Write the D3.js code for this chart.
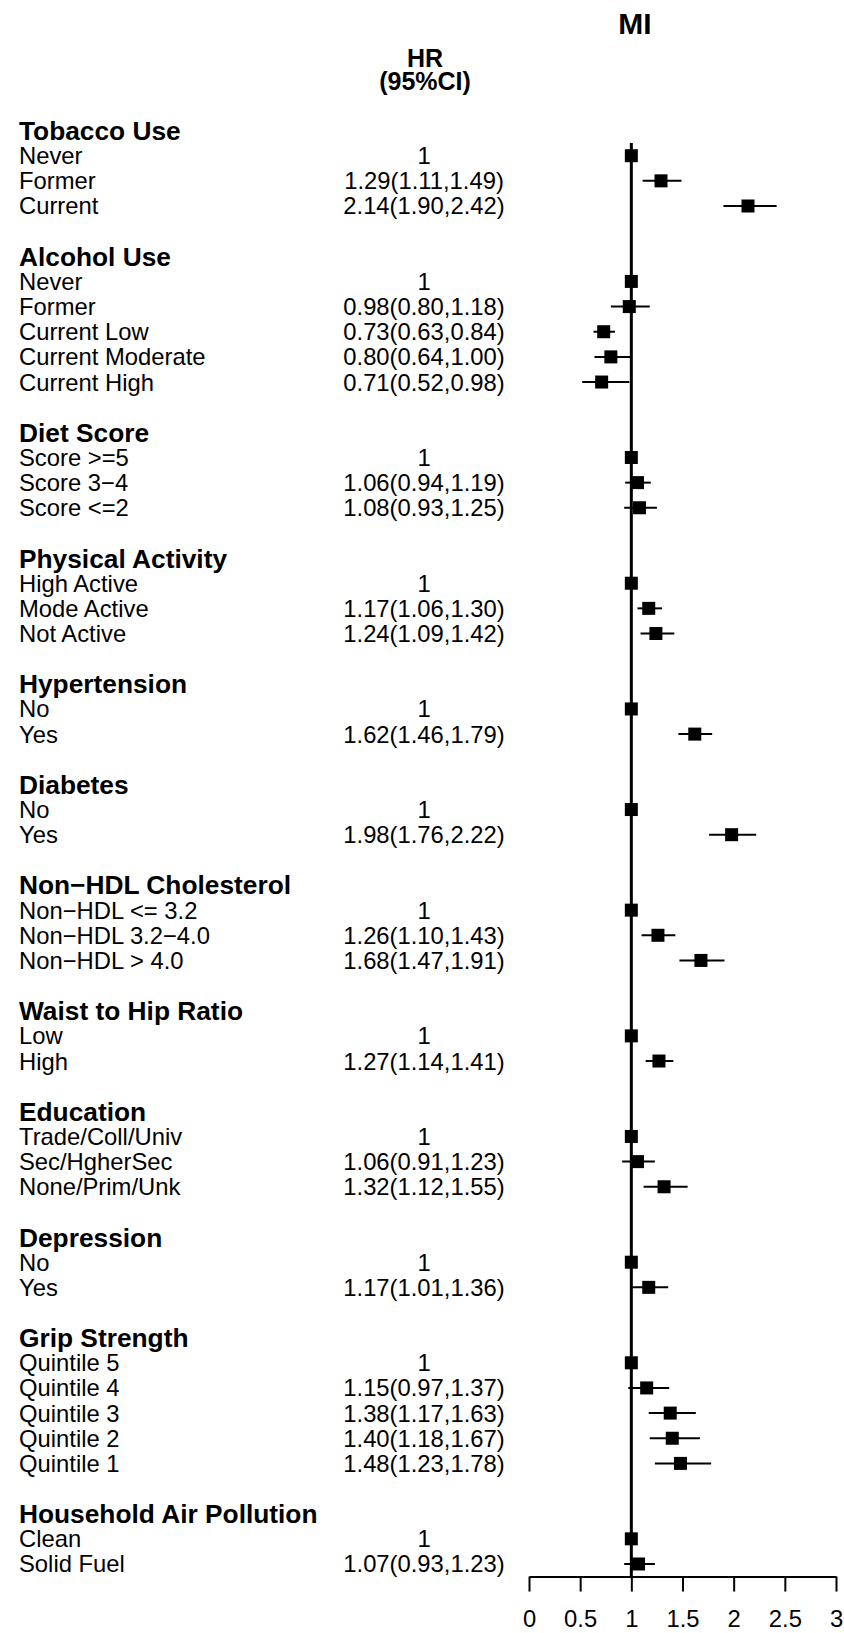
<!DOCTYPE html>
<html>
<head>
<meta charset="utf-8">
<script src="https://cdn.jsdelivr.net/npm/d3@7"></script>
<style>
  body { margin: 0; background: #fff; }
  svg text { font-family: "Liberation Sans", Arial, Helvetica, sans-serif; fill: #000; }
</style>
</head>
<body>
<svg id="chart" width="844" height="1633"></svg>
<script>
// groups and their levels, first level is the reference (HR = 1)
let groupNames = ["Tobacco Use", "Alcohol Use", "Diet Score", "Physical Activity", "Hypertension", "Diabetes",
    "Non\u2212HDL Cholesterol", "Waist to Hip Ratio", "Education", "Depression", "Grip Strength", "Household Air Pollution"]
let levelLabels = [
    ["Never", "Former", "Current"],
    ["Never", "Former", "Current Low", "Current Moderate", "Current High"],
    ["Score >=5", "Score 3\u22124", "Score <=2"],
    ["High Active", "Mode Active", "Not Active"],
    ["No", "Yes"],
    ["No", "Yes"],
    ["Non\u2212HDL <= 3.2", "Non\u2212HDL 3.2\u22124.0", "Non\u2212HDL > 4.0"],
    ["Low", "High"],
    ["Trade/Coll/Univ", "Sec/HgherSec", "None/Prim/Unk"],
    ["No", "Yes"],
    ["Quintile 5", "Quintile 4", "Quintile 3", "Quintile 2", "Quintile 1"],
    ["Clean", "Solid Fuel"]
]
let hrValues = [
    [1, 1.29, 2.14],
    [1, 0.98, 0.73, 0.80, 0.71],
    [1, 1.06, 1.08],
    [1, 1.17, 1.24],
    [1, 1.62],
    [1, 1.98],
    [1, 1.26, 1.68],
    [1, 1.27],
    [1, 1.06, 1.32],
    [1, 1.17],
    [1, 1.15, 1.38, 1.40, 1.48],
    [1, 1.07]
]
let lowerCI = [
    [null, 1.11, 1.90],
    [null, 0.80, 0.63, 0.64, 0.52],
    [null, 0.94, 0.93],
    [null, 1.06, 1.09],
    [null, 1.46],
    [null, 1.76],
    [null, 1.10, 1.47],
    [null, 1.14],
    [null, 0.91, 1.12],
    [null, 1.01],
    [null, 0.97, 1.17, 1.18, 1.23],
    [null, 0.93]
]
let upperCI = [
    [null, 1.49, 2.42],
    [null, 1.18, 0.84, 1.00, 0.98],
    [null, 1.19, 1.25],
    [null, 1.30, 1.42],
    [null, 1.79],
    [null, 2.22],
    [null, 1.43, 1.91],
    [null, 1.41],
    [null, 1.23, 1.55],
    [null, 1.36],
    [null, 1.37, 1.63, 1.67, 1.78],
    [null, 1.23]
]
let tickValues = [0, 0.5, 1, 1.5, 2, 2.5, 3]

// flatten into rows: header, levels, blank spacer
let rows = []
groupNames.forEach((g, gi) => {
    rows.push({ type: "header", label: g })
    levelLabels[gi].forEach((lab, li) => {
        let hr = hrValues[gi][li], lo = lowerCI[gi][li], hi = upperCI[gi][li]
        let txt = lo == null ? "1" : `${hr.toFixed(2)}(${lo.toFixed(2)},${hi.toFixed(2)})`
        rows.push({ type: "item", label: lab, hr: hr, lo: lo, hi: hi, txt: txt })
    })
    if (gi < groupNames.length - 1) rows.push({ type: "blank" })
})
rows.forEach((r, i) => r.idx = i)

let svg = d3.select("#chart")
let nRows = rows.length
let y = d3.scaleLinear().domain([0, nRows - 1]).range([130.55, 130.55 + (nRows - 1) * 25.148])
let x = d3.scaleLinear().domain([0, 3]).range([529, 836])
let step = y(1) - y(0)
let fs = 23.8, fsHead = 26.3

// column headers
svg.append("text").attr("x", 635).attr("y", 34).attr("text-anchor", "middle")
    .attr("font-size", 30).attr("font-weight", "bold").text("MI")
svg.append("text").attr("x", 425).attr("y", 67).attr("text-anchor", "middle")
    .attr("font-size", 25).attr("font-weight", "bold").text("HR")
svg.append("text").attr("x", 425).attr("y", 90).attr("text-anchor", "middle")
    .attr("font-size", 25).attr("font-weight", "bold").text("(95%CI)")

// left labels
svg.selectAll("text.lab").data(rows.filter(r => r.type != "blank")).enter().append("text")
    .attr("class", "lab")
    .attr("x", 19)
    .attr("y", d => d.type == "header" ? y(d.idx) + 9.5 : y(d.idx) + 8.5)
    .attr("font-size", d => d.type == "header" ? fsHead : fs)
    .attr("font-weight", d => d.type == "header" ? "bold" : "normal")
    .text(d => d.label)

let items = rows.filter(r => r.type == "item")

// HR text column
svg.selectAll("text.hr").data(items).enter().append("text")
    .attr("class", "hr")
    .attr("x", 424)
    .attr("y", d => y(d.idx) + 8.5)
    .attr("text-anchor", "middle")
    .attr("font-size", fs)
    .text(d => d.txt)

// reference line at 1
svg.append("line")
    .attr("x1", x(1)).attr("x2", x(1))
    .attr("y1", y(items[0].idx) - step / 2)
    .attr("y2", y(nRows - 1) + step / 2)
    .attr("stroke", "#000").attr("stroke-width", 3)

// CI lines
svg.selectAll("line.ci").data(items.filter(d => d.lo != null)).enter().append("line")
    .attr("class", "ci")
    .attr("x1", d => x(d.lo)).attr("x2", d => x(d.hi))
    .attr("y1", d => y(d.idx)).attr("y2", d => y(d.idx))
    .attr("stroke", "#000").attr("stroke-width", 2)

// boxes
let box = 13
svg.selectAll("rect.box").data(items).enter().append("rect")
    .attr("class", "box")
    .attr("x", d => x(d.hr) - box / 2)
    .attr("y", d => y(d.idx) - box / 2)
    .attr("width", box).attr("height", box)
    .attr("fill", "#000")

// x axis
let axisY = y(nRows - 1) + step / 2
let axis = svg.append("g").attr("transform", `translate(0,${axisY})`)
    .call(d3.axisBottom(x).tickValues(tickValues).tickSize(15)
        .tickFormat(d => String(d)).tickSizeOuter(0))
axis.select(".domain").attr("stroke", "#000").attr("stroke-width", 2)
axis.selectAll(".tick line").attr("stroke", "#000").attr("stroke-width", 2)
axis.selectAll(".tick text").attr("font-size", fs).attr("fill", "#000")
    .attr("font-family", "Liberation Sans, Arial, sans-serif")
    .attr("dy", null).attr("y", 50)
</script>
</body>
</html>
